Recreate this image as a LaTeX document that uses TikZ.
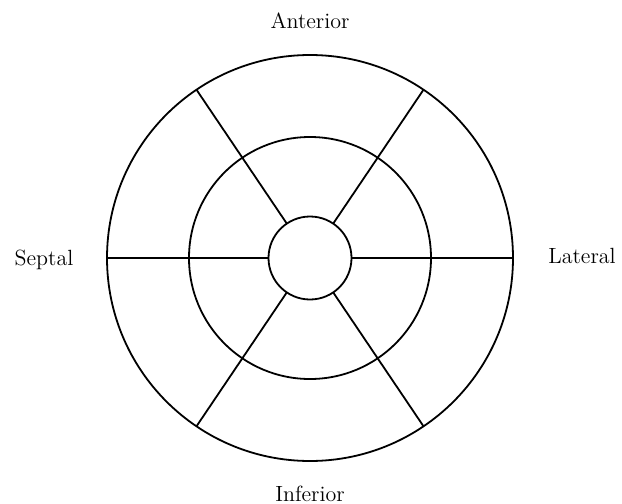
\documentclass[tikz,border=0pt]{standalone}
\usepackage{tikz}
\usetikzlibrary{positioning}

\begin{document}
\begin{tikzpicture}[x=0.5pt,y=-0.5pt,line width=0.9pt,
		ring/.style={circle,draw,inner sep=0pt,outer sep=0pt,minimum size=#1},
		lbl/.style={anchor=base,font=\fontsize{11}{13}\selectfont}]
		\useasboundingbox (0,0) rectangle (622,504);
		\coordinate (c) at (310,258);

		\node[ring=203pt] (outer) at (c) {};
		\node[ring=121pt] (middle) at (c) {};
		\node[ring=41.5pt,fill=white] (inner) at (c) {};

		\foreach \a in {0,56,124,180,236,304}
			\draw (inner.\a) -- (outer.\a);

		\node[lbl] (ant) at (310,28) {Anterior};
		\node[lbl] (inf) at (310,501) {Inferior};
		\node[lbl] (sep) at (44,265) {Septal};
		\node[lbl] (lat) at (582,263) {Lateral};
	\end{tikzpicture}
\end{document}
